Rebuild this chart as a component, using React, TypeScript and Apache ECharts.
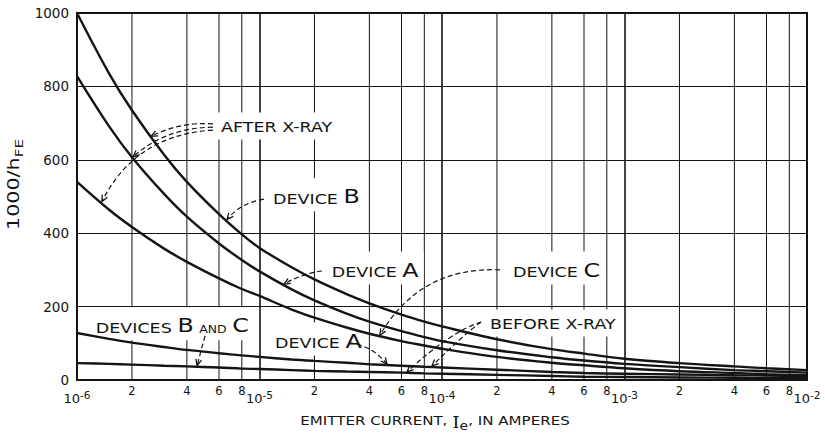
import React, { useEffect, useRef } from "react";
import * as echarts from "echarts";

// Emitter current sample points (amperes)
const currents = [
  1e-6, 1.5e-6, 2e-6, 3e-6, 4e-6, 6e-6, 8e-6, 1e-5, 1.5e-5, 2e-5, 3e-5, 4e-5,
  6e-5, 8e-5, 1e-4, 2e-4, 4e-4, 6e-4, 1e-3, 2e-3, 4e-3, 6e-3, 1e-2,
];

// 1000/hFE after X-ray exposure
const deviceBAfter = [1000, 835, 735, 614, 540, 452, 397, 360, 307, 274, 234, 209, 178, 159, 146, 111, 84, 72, 58, 46, 37, 32, 27];
const deviceAAfter = [828, 691, 607, 507, 445, 372, 327, 296, 247, 217, 181, 159, 133, 117, 106, 81, 62, 53, 44, 35, 27, 24, 20];
const deviceCAfter = [540, 464, 417, 358, 322, 277, 248, 229, 192, 170, 143, 126, 106, 94, 85, 63, 47, 40, 32, 24, 19, 16, 13];

// 1000/hFE before X-ray exposure
const deviceABefore = [128, 112, 102, 90, 82, 73, 67, 63, 56, 52, 47, 43, 39, 36, 34, 28, 22, 19, 17, 15, 13, 12, 10];
const devicesBCBefore = [46, 44, 42, 39, 37, 34, 31, 30, 27, 25, 23, 22, 20, 18, 17, 14, 11, 9, 8, 7, 6, 5, 5];

// Axis ranges and ticks
const currentMin = 1e-6;
const currentMax = 1e-2;
const decadeExponents = [-6, -5, -4, -3];
const minorMantissas = [2, 4, 6, 8];

const FONT = "DejaVu Sans";
const INK = "#141414";

type Pt = [number, number];
type Arrow = { from: Pt; ctrl: Pt; tip: Pt };
type Note = { text: string; at: Pt; arrows: Arrow[] };

// Callouts, placed in (current, 1000/hFE) coordinates
const notes: Note[] = [
  {
    text: "{t|AFTER X-RAY}",
    at: [5.78e-6, 692],
    arrows: [
      { from: [5.56e-6, 698], ctrl: [3.67e-6, 704], tip: [2.55e-6, 664] },
      { from: [5.56e-6, 689], ctrl: [3.03e-6, 687], tip: [2.03e-6, 608] },
      { from: [5.56e-6, 681], ctrl: [2.08e-6, 668], tip: [1.37e-6, 486] },
    ],
  },
  {
    text: "{t|DEVICE }{big|B}",
    at: [1.114e-5, 505],
    arrows: [{ from: [1.058e-5, 493], ctrl: [7.82e-6, 482], tip: [6.64e-6, 437] }],
  },
  {
    text: "{t|DEVICE }{big|A}",
    at: [2.34e-5, 305],
    arrows: [{ from: [2.2e-5, 297], ctrl: [1.71e-5, 290], tip: [1.36e-5, 261] }],
  },
  {
    text: "{t|DEVICE }{big|C}",
    at: [2.3e-4, 305],
    arrows: [{ from: [2.08e-4, 300], ctrl: [7.57e-5, 310], tip: [4.57e-5, 122] }],
  },
  {
    text: "{t|DEVICES }{big|B}{t| }{sm|AND}{t| }{big|C}",
    at: [1.19e-6, 153],
    arrows: [{ from: [5.03e-6, 120], ctrl: [4.78e-6, 80], tip: [4.55e-6, 39] }],
  },
  {
    text: "{t|DEVICE }{big|A}",
    at: [1.142e-5, 112],
    arrows: [{ from: [3.09e-5, 101], ctrl: [4.13e-5, 95], tip: [5.0e-5, 43] }],
  },
  {
    text: "{t|BEFORE X-RAY}",
    at: [1.72e-4, 155],
    arrows: [
      { from: [1.636e-4, 158], ctrl: [1.106e-4, 131], tip: [6.43e-5, 22] },
      { from: [1.636e-4, 158], ctrl: [1.287e-4, 120], tip: [8.81e-5, 38] },
    ],
  },
];

const noteRich = {
  t: { fontSize: 14, lineHeight: 17, verticalAlign: "bottom", fontFamily: FONT, fill: INK },
  big: { fontSize: 19, lineHeight: 23, verticalAlign: "bottom", fontFamily: FONT, fill: INK },
  sm: { fontSize: 10, lineHeight: 12, verticalAlign: "bottom", fontFamily: FONT, fill: INK },
};

function pairs(values: number[]) {
  return currents.map((c, i) => [c, values[i]]);
}

function curve(name: string, values: number[]) {
  return {
    name,
    type: "line",
    z: 2,
    data: pairs(values),
    smooth: 0.35,
    showSymbol: false,
    symbol: "none",
    silent: true,
    lineStyle: { color: INK, width: 2.4 },
  };
}

function buildOption() {
  return {
    animation: false,
    backgroundColor: "#fff",
    grid: {
      left: 77,
      right: 18,
      top: 13,
      bottom: 53,
      show: true,
      borderColor: INK,
      borderWidth: 2,
      backgroundColor: "transparent",
    },
    xAxis: {
      type: "log",
      logBase: 10,
      min: currentMin,
      max: currentMax,
      axisLine: { show: true, lineStyle: { color: INK, width: 2 } },
      axisTick: { show: false },
      splitLine: { show: true, lineStyle: { color: INK, width: 1.6 } },
      axisLabel: {
        margin: 9,
        color: INK,
        formatter: (v: number) => `{b|10}{s|${Math.round(Math.log10(v))}}`,
        rich: {
          b: { fontSize: 13, lineHeight: 15, padding: [4, 0, 0, 0], fontFamily: FONT, color: INK },
          s: { fontSize: 10.5, lineHeight: 12, verticalAlign: "top", fontFamily: FONT, color: INK },
        },
      },
    },
    yAxis: {
      type: "value",
      min: 0,
      max: 1000,
      interval: 200,
      axisLine: { show: true, lineStyle: { color: INK, width: 2 } },
      axisTick: { show: false },
      splitLine: { show: true, lineStyle: { color: INK, width: 1 } },
      axisLabel: {
        margin: 8,
        color: INK,
        fontSize: 13.5,
        fontFamily: FONT,
        formatter: (v: number) => String(v),
      },
    },
    series: [
      curve("Device B, after X-ray", deviceBAfter),
      curve("Device A, after X-ray", deviceAAfter),
      curve("Device C, after X-ray", deviceCAfter),
      curve("Device A, before X-ray", deviceABefore),
      curve("Devices B and C, before X-ray", devicesBCBefore),
    ],
  };
}

function buildGraphics(toPx: (p: Pt) => number[]) {
  const els: any[] = [];
  const origin = toPx([currentMin, 0]);
  const corner = toPx([currentMax, 1000]);
  const plotLeft = origin[0];
  const plotRight = corner[0];
  const plotTop = corner[1];
  const plotBottom = origin[1];

  // Intermediate grid lines at 2, 4, 6, 8 of each decade, with their labels
  decadeExponents.forEach((e) => {
    minorMantissas.forEach((m) => {
      const [gx] = toPx([m * Math.pow(10, e), 0]);
      els.push({
        type: "line",
        silent: true,
        z: 0,
        shape: { x1: gx, y1: plotTop, x2: gx, y2: plotBottom },
        style: { stroke: INK, lineWidth: 1 },
      });
      els.push({
        type: "text",
        silent: true,
        z: 0,
        x: gx,
        y: plotBottom + 5,
        style: {
          text: String(m),
          align: "center",
          verticalAlign: "top",
          fontSize: 11.5,
          fontFamily: FONT,
          fill: INK,
        },
      });
    });
  });

  // Axis titles
  els.push({
    type: "text",
    x: plotLeft - 62,
    y: (plotTop + plotBottom) / 2 - 12,
    rotation: Math.PI / 2,
    scaleX: 1.38,
    silent: true,
    z: 1,
    style: {
      text: "{m|1000/h}{s|FE}",
      align: "center",
      verticalAlign: "middle",
      fill: INK,
      rich: {
        m: { fontSize: 15, lineHeight: 18, verticalAlign: "top", fontFamily: FONT, fill: INK },
        s: { fontSize: 11, lineHeight: 13, padding: [8, 0, 0, 0], verticalAlign: "top", fontFamily: FONT, fill: INK },
      },
    },
  });
  els.push({
    type: "text",
    x: (plotLeft + plotRight) / 2 - 7,
    y: plotBottom + 42,
    scaleX: 1.16,
    silent: true,
    z: 1,
    style: {
      text: "{t|EMITTER CURRENT, }{i|I}{s|e}{t|, IN AMPERES}",
      align: "center",
      verticalAlign: "middle",
      fill: INK,
      rich: {
        t: { fontSize: 13, lineHeight: 16, verticalAlign: "top", fontFamily: FONT, fill: INK },
        i: { fontSize: 16, lineHeight: 16, verticalAlign: "top", fontFamily: "DejaVu Serif", fill: INK },
        s: { fontSize: 12, lineHeight: 12, padding: [6, 0, 0, 0], verticalAlign: "top", fontFamily: FONT, fill: INK },
      },
    },
  });

  // Callout labels and dashed leader arrows
  notes.forEach((n) => {
    const [lx, ly] = toPx(n.at);
    els.push({
      type: "text",
      x: lx,
      y: ly,
      scaleX: 1.25,
      silent: true,
      z: 1,
      style: {
        text: n.text,
        align: "left",
        verticalAlign: "middle",
        fill: INK,
        backgroundColor: "#fff",
        padding: [5, 4],
        rich: noteRich,
      },
    });
    n.arrows.forEach((a) => {
      const [x1, y1] = toPx(a.from);
      const [cx, cy] = toPx(a.ctrl);
      const [x2, y2] = toPx(a.tip);
      const ang = Math.atan2(y2 - cy, x2 - cx);
      const L = 7;
      const h = 0.42;
      const p1 = [x2 - L * Math.cos(ang - h), y2 - L * Math.sin(ang - h)];
      const p2 = [x2 - L * Math.cos(ang + h), y2 - L * Math.sin(ang + h)];
      els.push({
        type: "bezierCurve",
        silent: true,
        z: 3,
        shape: { x1, y1, x2, y2, cpx1: cx, cpy1: cy },
        style: { stroke: INK, lineWidth: 1.2, lineDash: [5, 3], fill: "none" },
      });
      els.push({
        type: "polyline",
        silent: true,
        z: 3,
        shape: { points: [p1, [x2, y2], p2] },
        style: { stroke: INK, lineWidth: 1.3, fill: "none" },
      });
    });
  });
  return els;
}

export default function App() {
  const ref = useRef<HTMLDivElement>(null);
  useEffect(() => {
    const el = ref.current;
    if (!el) return;
    const chart = echarts.init(el, null, { renderer: "svg" });
    chart.setOption(buildOption() as any);
    const toPx = (p: Pt) => chart.convertToPixel({ gridIndex: 0 }, p) as unknown as number[];
    chart.setOption({ graphic: { elements: buildGraphics(toPx) } } as any);
    return () => chart.dispose();
  }, []);
  return (
    <div
      ref={ref}
      style={{ position: "fixed", left: 0, top: 0, width: 825, height: 433, background: "#fff" }}
    />
  );
}
